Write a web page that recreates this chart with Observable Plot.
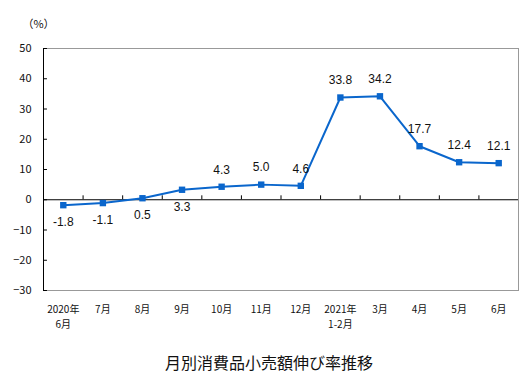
<!DOCTYPE html>
<html><head><meta charset="utf-8">
<script src="https://cdn.jsdelivr.net/npm/d3@7"></script>
<script src="https://cdn.jsdelivr.net/npm/@observablehq/plot@0.6"></script>
<style>
body{margin:0;background:#fff;font-family:"Noto Sans CJK JP",sans-serif;}
#title{text-align:center;font-size:16px;line-height:20px;margin-top:17px;padding-left:10px;color:#111;}
</style>
</head><body>
<div id="chart"></div>
<div id="title">月別消費品小売額伸び率推移</div>
<script>
const months = ["2020年\n6月","7月","8月","9月","10月","11月","12月","2021年\n1-2月","3月","4月","5月","6月"];
const growth = [-1.8,-1.1,0.5,3.3,4.3,5.0,4.6,33.8,34.2,17.7,12.4,12.1];
const labelSide = ["below","below","below","below","above","above","above","above","above","above","above","above"];
const yTicks = [-30,-20,-10,0,10,20,30,40,50];

const data = growth.map((v,i)=>({i, v, label: v.toFixed(1), side: labelSide[i]}));
const idx = months.map((_,i)=>i);
const bounds = idx.slice(0,-1).map(i=>i+0.5);
const xMin = -0.5, xMax = months.length - 0.5;

const chart = Plot.plot({
  width: 528, height: 335,
  marginLeft: 43, marginRight: 10, marginTop: 48, marginBottom: 45,
  style: {fontFamily: '"Noto Sans CJK JP", sans-serif', background: "#fff"},
  x: {type: "linear", domain: [xMin, xMax], axis: null},
  y: {domain: [-30, 50], axis: null},
  marks: [
    Plot.frame({stroke: "#999"}),
    Plot.ruleX([xMin], {stroke: "#000"}),
    Plot.ruleY(yTicks, {x1: xMin, x2: xMin + 0.1, stroke: "#000"}),
    Plot.ruleY([0], {stroke: "#000"}),
    Plot.ruleX(bounds, {y1: 0, y2: 1.3, stroke: "#000"}),
    Plot.axisY({ticks: yTicks, tickSize: 0, tickPadding: 12, fontSize: 11, color: "#111", label: null}),
    Plot.axisX({ticks: idx, tickSize: 0, tickPadding: 11, fontSize: 10, tickFormat: i => months[i], label: null, color: "#111", lineHeight: 1.55}),
    Plot.line(data, {x: "i", y: "v", stroke: "#0a66cc", strokeWidth: 2}),
    Plot.dot(data, {x: "i", y: "v", symbol: "square", r: 3.6, fill: "#0a66cc", stroke: null}),
    Plot.text(data.filter(d=>d.side==="above"), {x: "i", y: "v", text: "label", dy: -17, fontSize: 12, fill: "#111", fontFamily: '"Liberation Sans", Arial, sans-serif'}),
    Plot.text(data.filter(d=>d.side==="below"), {x: "i", y: "v", text: "label", dy: 17, fontSize: 12, fill: "#111", fontFamily: '"Liberation Sans", Arial, sans-serif'}),
    Plot.text(["（%）"], {frameAnchor: "top-left", dx: -5, dy: -28, fontSize: 11, fill: "#111", textAnchor: "middle"})
  ]
});
document.getElementById("chart").appendChild(chart);
</script>
</body></html>
